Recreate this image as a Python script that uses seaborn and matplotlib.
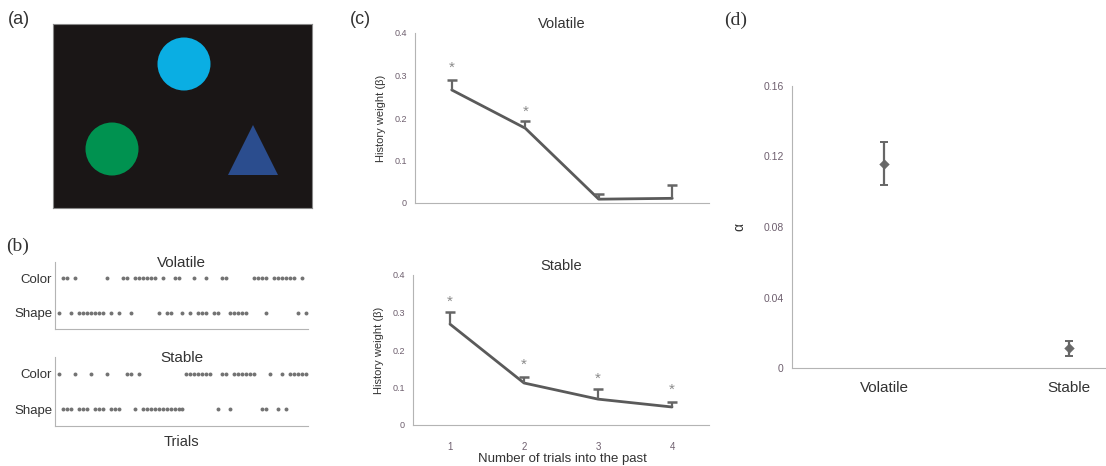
import matplotlib
matplotlib.use("Agg")
import matplotlib.pyplot as plt
import matplotlib.patches as mpatches
import pandas as pd
import seaborn as sns

# ---- data ----
# panel (a): stimulus shapes (pixel offsets inside the black box)
circle_centers = [(131, 40), (59, 125)]
circle_colors = ["#0aaee3", "#009250"]
circle_radius = 26.5
triangle_pts = [(175, 151), (225, 151), (200, 101)]
triangle_color = "#2b4d8e"

# panel (b): trial numbers where the rule was colour / shape
vol_color = [2, 3, 5, 13, 17, 18, 20, 21, 22, 23, 24, 25, 27, 30, 31, 35, 38, 42, 43,
             50, 51, 52, 53, 55, 56, 57, 58, 59, 60, 62]
vol_shape = [1, 4, 6, 7, 8, 9, 10, 11, 12, 14, 16, 19, 26, 28, 29, 32, 34, 36, 37,
             38, 40, 41, 44, 45, 46, 47, 48, 53, 61, 63]
stb_color = [1, 5, 9, 13, 18, 19, 21, 33, 34, 35, 36, 37, 38, 39, 42, 43, 45, 46, 47,
             48, 49, 50, 54, 57, 59, 60, 61, 62, 63]
stb_shape = [2, 3, 4, 6, 7, 8, 10, 11, 12, 14, 15, 16, 20, 22, 23, 24, 25, 26, 27, 28,
             29, 30, 31, 32, 41, 44, 52, 53, 56, 58]

# panel (c): history weights
lags = [1, 2, 3, 4]
vol_beta = [0.266, 0.176, 0.009, 0.011]
vol_err = [0.023, 0.017, 0.012, 0.031]
vol_star = [0.318, 0.214, None, None]
stb_beta = [0.269, 0.112, 0.069, 0.048]
stb_err = [0.032, 0.016, 0.027, 0.013]
stb_star = [0.328, 0.160, 0.123, 0.093]

# panel (d): learning rate
conditions = ["Volatile", "Stable"]
alpha_mean = [0.1157, 0.0113]
alpha_lo = [0.104, 0.0068]
alpha_hi = [0.128, 0.0153]

sns.set_style("white")
plt.rcParams["font.family"] = ["Liberation Sans", "DejaVu Sans"]

W, H = 1106, 466
fig = plt.figure(figsize=(W / 100, H / 100), dpi=100)
fig.patch.set_facecolor("white")


def add_ax(l, t, r, b):
    return fig.add_axes([l / W, 1 - b / H, (r - l) / W, (b - t) / H])


tick_col = "#6e5f6e"
axis_col = "#b4b4b4"
text_col = "#333333"
mark_col = "#5a5a5a"

# ---- (a) ----
ax_a = add_ax(53, 24, 312, 208)
ax_a.set_facecolor("#1a1616")
ax_a.set_xlim(0, 259)
ax_a.set_ylim(184, 0)
for (cx, cy), c in zip(circle_centers, circle_colors):
    ax_a.add_patch(mpatches.Circle((cx, cy), circle_radius, color=c, lw=0))
ax_a.add_patch(mpatches.Polygon(triangle_pts, closed=True, color=triangle_color, lw=0))
ax_a.set_xticks([])
ax_a.set_yticks([])
for s in ax_a.spines.values():
    s.set_color("#888888")
    s.set_linewidth(0.8)

# ---- (b) ----
def raster(box, title, color_trials, shape_trials, xlabel=None):
    ax = add_ax(*box)
    df = pd.DataFrame({
        "trial": color_trials + shape_trials,
        "row": [1] * len(color_trials) + [0] * len(shape_trials),
    })
    sns.scatterplot(data=df, x="trial", y="row", ax=ax, color="#737373", s=8,
                    linewidth=0, legend=False)
    ax.set_xlim(0, 63.5)
    ax.set_ylim(-0.46, 1.46)
    ax.set_yticks([0, 1], ["Shape", "Color"], fontsize=9.5, color=text_col)
    ax.set_xticks([21, 42], ["", ""])
    ax.tick_params(axis="y", length=0, pad=2)
    ax.tick_params(axis="x", length=2, direction="in", color=axis_col)
    ax.set_xlabel(xlabel if xlabel else "", fontsize=10.5, color=text_col, labelpad=3)
    ax.set_ylabel("")
    sns.despine(ax=ax)
    for s in ["left", "bottom"]:
        ax.spines[s].set_color(axis_col)
        ax.spines[s].set_linewidth(0.8)
    ax.text(0.5, 0.985, title, transform=ax.transAxes, ha="center", va="center",
            fontsize=11, color=text_col)
    return ax


raster((55, 262, 308, 329), "Volatile", vol_color, vol_shape)
raster((55, 357, 308, 426), "Stable", stb_color, stb_shape, xlabel="Trials")

# ---- (c) ----
def history(box, title, beta, err, stars, show_labels):
    ax = add_ax(*box)
    df = pd.DataFrame({"lag": lags, "beta": beta})
    sns.lineplot(data=df, x="lag", y="beta", ax=ax, color=mark_col, lw=2)
    tops = [b + e for b, e in zip(beta, err)]
    ax.errorbar(lags, beta, yerr=[[0] * 4, err], fmt="none", ecolor="#666666",
                elinewidth=1.6, capsize=0)
    ax.plot(lags, tops, ls="none", marker="_", markersize=7, mew=1.8, color="#666666")
    for x, s in zip(lags, stars):
        if s is not None:
            ax.text(x, s, "*", ha="center", va="center", fontsize=11, color="#8a8a8a")
    ax.set_xlim(0.5, 4.5)
    ax.set_ylim(0, 0.4)
    ax.set_yticks([0, 0.1, 0.2, 0.3, 0.4], ["0", "0.1", "0.2", "0.3", "0.4"])
    ax.set_xticks([0.5, 1.5, 2.5, 3.5, 4.5], [""] * 5)
    if show_labels:
        ax.set_xticks(lags, ["1", "2", "3", "4"], minor=True)
        ax.tick_params(axis="x", which="minor", length=0, pad=12, labelsize=7,
                       labelcolor=tick_col)
    ax.tick_params(axis="both", which="major", length=3, width=0.8, color=axis_col,
                   labelsize=6.5, labelcolor=tick_col, pad=3)
    ax.set_xlabel("")
    ax.set_ylabel("History weight (β)", fontsize=8, color=text_col, labelpad=6)
    sns.despine(ax=ax)
    for s in ["left", "bottom"]:
        ax.spines[s].set_color(axis_col)
        ax.spines[s].set_linewidth(0.8)
    ax.set_title(title, fontsize=10.5, color=text_col, pad=0, y=1.03)
    return ax


history((415, 33, 709, 203), "Volatile", vol_beta, vol_err, vol_star, False)
history((413, 275, 709, 425), "Stable", stb_beta, stb_err, stb_star, True)
fig.text(562 / W, 1 - 459 / H, "Number of trials into the past", ha="center",
         va="center", fontsize=9.5, color=text_col)

# ---- (d) ----
ax_d = add_ax(792, 86, 1106, 368)
xpos = [0, 1]
dd = pd.DataFrame({"x": xpos, "alpha": alpha_mean})
ax_d.errorbar(xpos, alpha_mean,
              yerr=[[m - lo for m, lo in zip(alpha_mean, alpha_lo)],
                    [hi - m for m, hi in zip(alpha_mean, alpha_hi)]],
              fmt="none", ecolor="#666666", elinewidth=1.6, capsize=3, capthick=1.4)
sns.scatterplot(data=dd, x="x", y="alpha", ax=ax_d, marker="D", s=28,
                color="#6a6a6a", linewidth=0, legend=False)
ax_d.set_xlim(-0.5, 1.2)
ax_d.set_ylim(0, 0.16)
ax_d.set_yticks([0, 0.04, 0.08, 0.12, 0.16], ["0", "0.04", "0.08", "0.12", "0.16"])
ax_d.set_xticks(xpos, conditions)
ax_d.tick_params(axis="y", length=3, width=0.8, color=axis_col, labelsize=7.5,
                 labelcolor=tick_col, pad=3)
ax_d.tick_params(axis="x", length=0, labelsize=11, labelcolor=text_col, pad=9)
ax_d.set_xlabel("")
ax_d.set_ylabel("α", fontsize=10, color=text_col, labelpad=12)
sns.despine(ax=ax_d)
for s in ["left", "bottom"]:
    ax_d.spines[s].set_color(axis_col)
    ax_d.spines[s].set_linewidth(0.8)

# ---- panel letters ----
fig.text(8 / W, 1 - 20 / H, "(a)", fontsize=13, color=text_col, va="center",
         family=["Liberation Sans", "DejaVu Sans"])
fig.text(6 / W, 1 - 246 / H, "(b)", fontsize=14, color=text_col, va="center",
         family=["Liberation Serif", "DejaVu Serif"])
fig.text(350 / W, 1 - 20 / H, "(c)", fontsize=13, color=text_col, va="center",
         family=["Liberation Sans", "DejaVu Sans"])
fig.text(724 / W, 1 - 20 / H, "(d)", fontsize=14, color=text_col, va="center",
         family=["Liberation Serif", "DejaVu Serif"])

fig.savefig("out.png", dpi=100, facecolor="white")
